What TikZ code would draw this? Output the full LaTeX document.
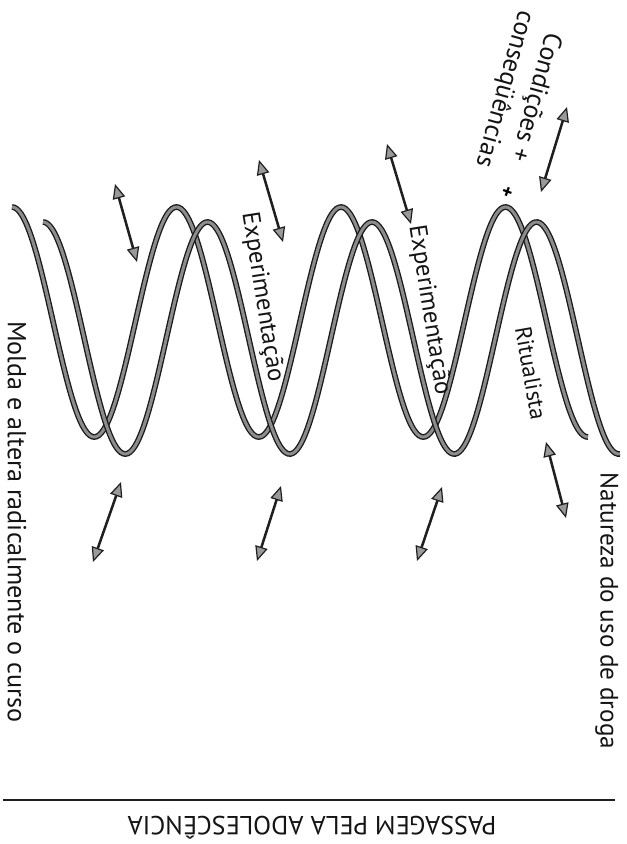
\documentclass[tikz,border=0pt]{standalone}
\usepackage{fontspec}
\setmainfont{PT Sans}
\usetikzlibrary{arrows.meta}

\begin{document}
\begin{tikzpicture}[x=0.75pt,y=-0.75pt,
  wave/.style={draw=black!90, line width=1pt, double=black!45, double distance=2.3pt},
  twoway/.style={draw=black!88, line width=1.9pt,
    >={Triangle[length=11pt,width=9.5pt,line width=0.9pt,fill=black!40]}, <->},
  lbl/.style={inner sep=0pt, rotate=-90, text=black!92},
  fs/.style={font=\fontsize{#1}{#1}\selectfont},
]
\useasboundingbox (0,0) rectangle (626,844);

% the two interlaced courses (period 164.5, i.e. 2.18845 degrees per unit)
\draw[wave] plot[domain=12:588, samples=260, smooth] (\x,{322-115*cos((\x-12)*2.18845)});
\draw[wave] plot[domain=43:620, samples=260, smooth] (\x,{338-116*cos((\x-43)*2.18845)});

% arrow end points
\coordinate (u1a) at (115,184); \coordinate (u1b) at (137,262);
\coordinate (u2a) at (259,160); \coordinate (u2b) at (283,242);
\coordinate (u3a) at (387,144); \coordinate (u3b) at (411,224);
\coordinate (u4a) at (567,107); \coordinate (u4b) at (541,192);
\coordinate (d1a) at (93,562);  \coordinate (d1b) at (121,482);
\coordinate (d2a) at (257,561); \coordinate (d2b) at (281,486);
\coordinate (d3a) at (417,561); \coordinate (d3b) at (442,487);
\coordinate (d4a) at (546,442); \coordinate (d4b) at (566,518);

\foreach \p in {u1,u2,u3,u4,d1,d2,d3,d4}
  \draw[twoway] (\p a) -- (\p b);

% labels
\node[lbl, fs=19.6] (molda) at (17,522) {Molda e altera radicalmente o curso};
\node[lbl, fs=18.9] (natureza) at (607,611) {Natureza do uso de droga};
\node[lbl, fs=18.6, rotate=9] (exp1) at (262,297) {Experimentação};
\node[lbl, fs=18.6, rotate=9] (exp2) at (429,310) {Experimentação};
\node[lbl, fs=17.4, rotate=10] (ritual) at (531,373) {Ritualista};
\node[inner sep=0pt, text=black!92, rotate=-105.5, align=center,
      font=\fontsize{19.5}{24}\selectfont] (cond) at (519.5,93) {Condições +\\conseqüências};
\node[font=\fontsize{15}{15}\selectfont\bfseries, inner sep=0pt, rotate=-20] (mark) at (507,193) {+};

% axis of adolescence
\coordinate (axl) at (3,800);
\coordinate (axr) at (615,800);
\draw[black!88, line width=2.2pt] (axl) -- (axr);
\node[fs=19.6, rotate=180, inner sep=0pt, text=black!92] (passagem) at (312,828) {PASSAGEM PELA ADOLESCÊNCIA};
\end{tikzpicture}
\end{document}
